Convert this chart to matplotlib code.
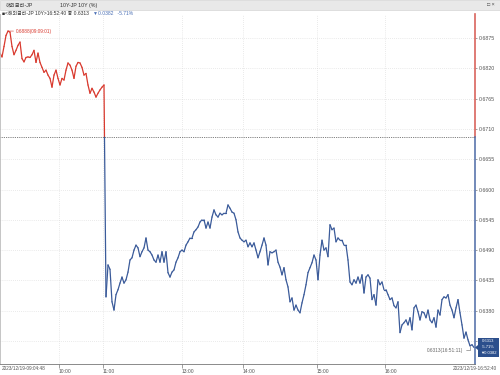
import matplotlib
matplotlib.use("Agg")
import matplotlib.pyplot as plt
from matplotlib.collections import LineCollection
from matplotlib.patches import Rectangle, Polygon

plt.rcParams['font.family'] = ['Liberation Sans', 'Noto Sans CJK KR', 'DejaVu Sans']

# --- data (JP 10Y, 2023/12/19) ---
prev_close = 0.6695
last_price = 0.6313
change = "0.0382"
change_pct = "-5.71%"
high_note = "0.6888(09:09:01)"
low_note = "0.6313(16:51:11)"

prices_before = [
    0.6848, 0.6841, 0.6860, 0.6880, 0.6888, 0.6886, 0.6860, 0.6845, 0.6853, 0.6862,
    0.6868, 0.6838, 0.6832, 0.6840, 0.6841, 0.6840, 0.6845, 0.6853, 0.6831, 0.6848,
    0.6831, 0.6822, 0.6813, 0.6817, 0.6808, 0.6802, 0.6786, 0.6808, 0.6817, 0.6802,
    0.6790, 0.6802, 0.6799, 0.6817, 0.6830, 0.6826, 0.6817, 0.6802, 0.6824, 0.6831,
    0.6830, 0.6822, 0.6808, 0.6811, 0.6790, 0.6775, 0.6784, 0.6777, 0.6768, 0.6775,
    0.6781, 0.6786, 0.6790,
]
prices_after = [
    0.6405, 0.6463, 0.6455, 0.6396, 0.6381, 0.6409, 0.6418, 0.6430, 0.6441, 0.6430,
    0.6436, 0.6450, 0.6472, 0.6476, 0.6490, 0.6499, 0.6494, 0.6478, 0.6487, 0.6494,
    0.6512, 0.6490, 0.6487, 0.6481, 0.6472, 0.6468, 0.6481, 0.6468, 0.6487, 0.6468,
    0.6487, 0.6449, 0.6441, 0.6450, 0.6454, 0.6468, 0.6476, 0.6487, 0.6490, 0.6487,
    0.6499, 0.6505, 0.6512, 0.6512, 0.6523, 0.6527, 0.6532, 0.6541, 0.6545, 0.6545,
    0.6530, 0.6541, 0.6530, 0.6550, 0.6563, 0.6554, 0.6550, 0.6557, 0.6554, 0.6557,
    0.6557, 0.6572, 0.6566, 0.6559, 0.6557, 0.6545, 0.6523, 0.6512, 0.6508, 0.6505,
    0.6508, 0.6496, 0.6503, 0.6496, 0.6503, 0.6490, 0.6476, 0.6487, 0.6499, 0.6512,
    0.6499, 0.6463, 0.6487, 0.6485, 0.6487, 0.6490, 0.6468, 0.6459, 0.6445, 0.6458,
    0.6436, 0.6423, 0.6396, 0.6403, 0.6381, 0.6390, 0.6381, 0.6376, 0.6394, 0.6409,
    0.6427, 0.6449, 0.6458, 0.6467, 0.6481, 0.6472, 0.6436, 0.6481, 0.6508, 0.6490,
    0.6494, 0.6478, 0.6536, 0.6527, 0.6530, 0.6505, 0.6512, 0.6508, 0.6508, 0.6499,
    0.6499, 0.6472, 0.6432, 0.6427, 0.6436, 0.6430, 0.6441, 0.6430, 0.6445, 0.6412,
    0.6441, 0.6445, 0.6439, 0.6400, 0.6409, 0.6390, 0.6436, 0.6427, 0.6432, 0.6418,
    0.6418, 0.6409, 0.6400, 0.6403, 0.6389, 0.6385, 0.6396, 0.6340, 0.6354, 0.6358,
    0.6363, 0.6354, 0.6367, 0.6345, 0.6385, 0.6390, 0.6378, 0.6363, 0.6378, 0.6376,
    0.6367, 0.6381, 0.6363, 0.6358, 0.6367, 0.6350, 0.6381, 0.6372, 0.6400, 0.6405,
    0.6403, 0.6409, 0.6390, 0.6381, 0.6367, 0.6385, 0.6400, 0.6376, 0.6354, 0.6330,
    0.6341, 0.6327, 0.6316, 0.6318, 0.6313,
]
prices = prices_before + prices_after

time_ticks = [29.5, 51.5, 91, 121.5, 158.5, 192.5]
time_labels = ["10:00", "11:00", "13:00", "14:00", "15:00", "16:00"]
first_stamp = "2023/12/19-09:04:48"
last_stamp = "2023/12/19-16:52:40"
y_ticks = [0.6875, 0.6820, 0.6765, 0.6710, 0.6655, 0.6600,
           0.6545, 0.6490, 0.6435, 0.6380, 0.6325]

red = "#d93a2f"
blue = "#3b5b9a"
grid_c = "#d6d6d6"

fig = plt.figure(figsize=(5, 3.75), dpi=100)
W, H = 500.0, 375.0

# header band
fig.patches.append(Rectangle((0, 1 - 10 / H), 1, 10 / H, transform=fig.transFigure,
                             facecolor="#e9e9e9", edgecolor="#cfcfcf", lw=0.4))
fig.text(6 / W, 1 - 5 / H, "해외금리-JP", fontsize=3.8, va="center", color="#333333")
fig.text(60 / W, 1 - 5 / H, "10Y-JP 10Y (%)", fontsize=3.8, va="center", color="#333333")
fig.text(487 / W, 1 - 5 / H, "□ ×", fontsize=3.8, va="center", color="#444444")

ax = fig.add_axes([0, 1 - 364 / H, 475 / W, 350 / H])
ax.set_facecolor("white")

# line split in red / blue around the previous close
segs, cols = [], []
for i in range(len(prices) - 1):
    y0, y1 = prices[i], prices[i + 1]
    if (y0 - prev_close) * (y1 - prev_close) < 0:
        xm = i + (prev_close - y0) / (y1 - y0)
        segs += [[(i, y0), (xm, prev_close)], [(xm, prev_close), (i + 1, y1)]]
        cols += [red if y0 > prev_close else blue, red if y1 > prev_close else blue]
    else:
        segs.append([(i, y0), (i + 1, y1)])
        cols.append(red if max(y0, y1) > prev_close else blue)
lc = LineCollection(segs, colors=cols, linewidths=0.9, capstyle="round", joinstyle="round")
ax.add_collection(lc)

ax.set_xlim(0, len(prices) - 0.5)
ax.set_ylim(0.6283, 0.6919)

ax.set_yticks(y_ticks)
# the lowest label sits under the last-price box
ax.set_yticklabels(["%.4f" % v for v in y_ticks[:-1]] + [""])
ax.yaxis.tick_right()
ax.tick_params(axis="y", length=1.5, width=0.4, pad=1, labelsize=3.8,
               colors="#555555")
ax.set_xticks(time_ticks)
ax.set_xticklabels(time_labels)
ax.tick_params(axis="x", length=3, width=0.4, pad=0.5, labelsize=3.6,
               colors="#555555")
for lab in ax.get_xticklabels():
    lab.set_ha("left")
ax.grid(True, ls=(0, (1, 2)), color=grid_c, lw=0.5)

for s in ["top", "right"]:
    ax.spines[s].set_visible(False)
ax.spines["left"].set_color("#bbbbbb")
ax.spines["left"].set_linewidth(0.6)
ax.spines["bottom"].set_color("#777777")
ax.spines["bottom"].set_linewidth(0.6)

# right axis in two colours
ytr = ax.get_yaxis_transform()
ax.plot([1, 1], [prev_close, 0.6919], transform=ytr, color="#d9655d", lw=1.2, clip_on=False)
ax.plot([1, 1], [0.6283, prev_close], transform=ytr, color="#5a76ad", lw=1.2, clip_on=False)

# previous close line
ax.axhline(prev_close, color="#555555", lw=0.6, ls=(0, (1, 1.2)))

# high / low notes
hi_i = prices.index(max(prices))
ax.annotate(high_note, xy=(hi_i, max(prices)), xytext=(6, 0), textcoords="offset points",
            fontsize=3.4, color=red, va="center", ha="left",
            arrowprops=dict(arrowstyle="-", color=red, lw=0.4, shrinkA=0, shrinkB=0))
lo_i = len(prices) - 3
ax.annotate(low_note, xy=(lo_i, prices[lo_i]), xytext=(-5, -3), textcoords="offset points",
            fontsize=3.4, color="#666666", va="center", ha="right",
            arrowprops=dict(arrowstyle="-", color="#666666", lw=0.4, shrinkA=0, shrinkB=0,
                            connectionstyle="angle,angleA=0,angleB=90,rad=0"))

# last price box on the right
bx0, by0 = 478 / W, 1 - 357 / H
fig.patches.append(Rectangle((bx0, by0), 21 / W, 19 / H, transform=fig.transFigure,
                             facecolor="#2c4f8c", edgecolor="none"))
fig.patches.append(Polygon([(bx0, by0 + 7 / H), (bx0 - 3 / W, by0 + 9.5 / H), (bx0, by0 + 12 / H)],
                           closed=True, transform=fig.transFigure, facecolor="#2c4f8c",
                           edgecolor="none"))
box_lines = ["%.4f" % last_price, change_pct, "▼" + change]
for k, txt in enumerate(box_lines):
    fig.text(bx0 + 10.5 / W, by0 + (15.5 - 5.8 * k) / H, txt, fontsize=3.0,
             color="white", ha="center", va="center")

# header info line
fig.text(2 / W, 1 - 13 / H, "■<해외금리-JP 10Y>16:52:40 종 %.4f" % last_price,
         fontsize=3.6, va="center", color="#333333")
fig.text(93 / W, 1 - 13 / H, "▼%s   %s" % (change, change_pct),
         fontsize=3.6, va="center", color="#4a6fb5")

# date stamps under the axis
fig.text(2 / W, 1 - 368.5 / H, first_stamp, fontsize=3.4, va="center", color="#555555")
fig.text(497 / W, 1 - 368.5 / H, last_stamp, fontsize=3.4, va="center", ha="right",
         color="#555555")

fig.savefig("out.png", dpi=100)
